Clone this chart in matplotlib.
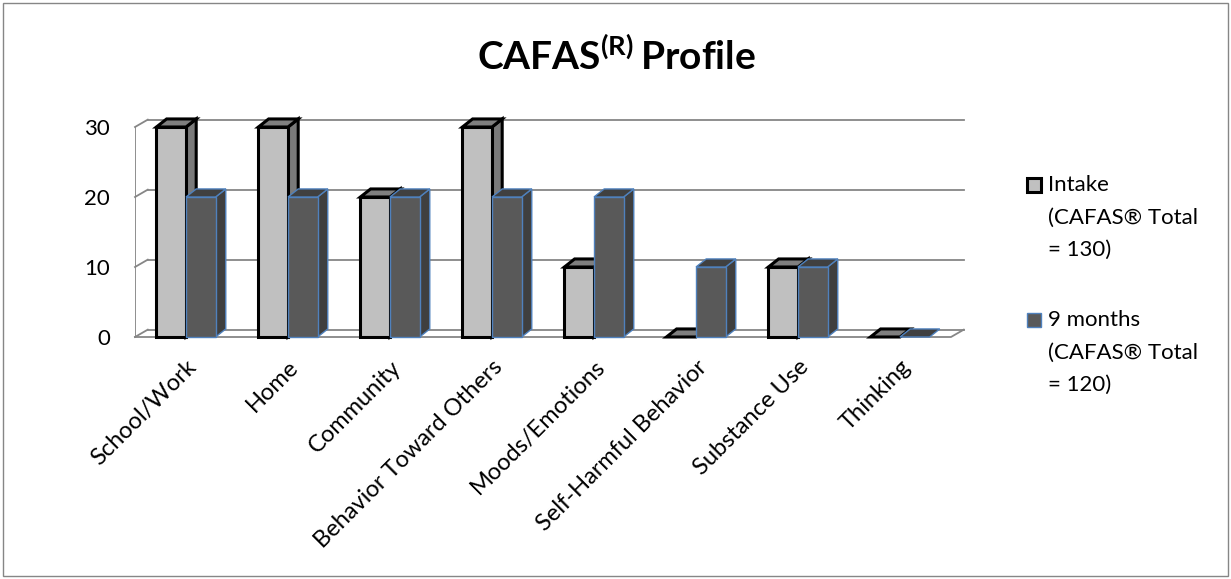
import matplotlib.pyplot as plt
from matplotlib.patches import Rectangle
import numpy as np

# CAFAS subscale scores
categories = ['School/Work', 'Home', 'Community', 'Behavior Toward Others',
              'Moods/Emotions', 'Self-Harmful Behavior', 'Substance Use', 'Thinking']
intake = [30, 30, 20, 30, 10, 0, 10, 0]
months9 = [20, 20, 20, 20, 20, 10, 10, 0]
series_labels = ['Intake\n(CAFAS\u00ae Total\n= 130)', '9 months\n(CAFAS\u00ae Total\n= 120)']
yticks = [0, 10, 20, 30]

plt.rcParams['font.family'] = ['Lato', 'DejaVu Sans']
plt.rcParams['mathtext.fontset'] = 'custom'
plt.rcParams['mathtext.bf'] = 'Lato:bold'
plt.rcParams['mathtext.rm'] = 'Lato'

W, H = 1231, 579
fig = plt.figure(figsize=(W / 100, H / 100), dpi=100)

# front plane: x=-0.5 at px 135, 102 px per category; y=0 at px 337, 7 px per unit
ax = fig.add_axes([135 / W, (H - 337) / H, 830 / W, 224 / H])
ax.set_xlim(-0.5, -0.5 + 830 / 102)
ax.set_ylim(0, 32)
for sp in ax.spines.values():
    sp.set_visible(False)

n = len(categories)
gdx, gdy = 0.125, 1.05    # depth of walls
bdx, bdy = 0.1, 1.15      # depth of bars
bw = 0.29
grid_c = '#868686'

# back wall gridlines + left wall
for v in yticks:
    ax.plot([-0.5 + gdx, n - 0.5 + gdx], [v + gdy, v + gdy], color=grid_c, lw=1.3, zorder=1, clip_on=False)
    ax.plot([-0.5, -0.5 + gdx], [v, v + gdy], color=grid_c, lw=1.3, zorder=1, clip_on=False)
ax.plot([-0.5, -0.5], [0, yticks[-1]], color=grid_c, lw=1.3, zorder=1)
# floor front edge
ax.plot([-0.5, n - 0.5, n - 0.5 + gdx], [0, 0, gdy], color=grid_c, lw=1.3, zorder=1, clip_on=False)


def bar3d(x0, h, front, top, side, edge, lw, z):
    x1 = x0 + bw
    kw = dict(edgecolor=edge, lw=lw, zorder=z, joinstyle='miter', clip_on=False)
    if h > 0:
        ax.fill([x1, x1 + bdx, x1 + bdx, x1], [0, bdy, h + bdy, h], facecolor=side, **kw)
        ax.fill([x0, x1, x1, x0], [0, 0, h, h], facecolor=front, **kw)
    ax.fill([x0, x1, x1 + bdx, x0 + bdx], [h, h, h + bdy, h + bdy], facecolor=top, **kw)


for i in range(n):
    bar3d(i - bw, intake[i], '#C0C0C0', '#7F7F7F', '#7A7A7A', 'black', 2.2, 3 + i)
    bar3d(i, months9[i], '#595959', '#404040', '#3F3F3F', '#4F81BD', 1.0, 3.5 + i)

ax.set_yticks(yticks)
ax.set_yticklabels([str(v) for v in yticks], fontsize=16)
ax.set_xticks(range(n))
ax.set_xticklabels(categories, fontsize=17, rotation=45, ha='right', va='top',
                   rotation_mode='anchor')
ax.tick_params(axis='y', length=0, pad=18)
ax.tick_params(axis='x', length=0, pad=14)

# title
fig.text(617 / W, 1 - 57 / H, r'$\mathbf{CAFAS^{(R)}\,Profile}$', fontsize=28,
         ha='center', va='center')

# legend
leg_faces = ['#C0C0C0', '#595959']
leg_edges = ['black', '#4F81BD']
leg_lw = [2.2, 1.0]
leg_y0 = [185, 320]
for k, lab in enumerate(series_labels):
    y = leg_y0[k]
    fig.add_artist(Rectangle((1027 / W, 1 - (y + 7) / H), 14 / W, 14 / H,
                             facecolor=leg_faces[k], edgecolor=leg_edges[k], lw=leg_lw[k],
                             transform=fig.transFigure))
    for j, line in enumerate(lab.split('\n')):
        fig.text(1048 / W, 1 - (y + j * 32.5) / H, line, fontsize=16, ha='left', va='center')

# outer chart border
fig.add_artist(Rectangle((3 / W, 3 / H), 1 - 6 / W, 1 - 6 / H, fill=False,
                         edgecolor='#868686', lw=1.0, transform=fig.transFigure))

fig.savefig('out.png', dpi=100)
